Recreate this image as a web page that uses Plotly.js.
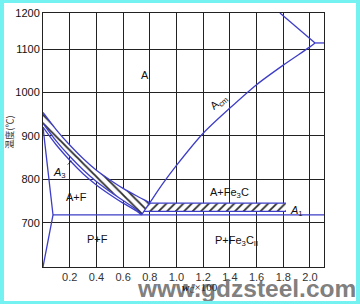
<!DOCTYPE html>
<html>
<head>
<meta charset="utf-8">
<script src="https://cdn.plot.ly/plotly-3.0.1.min.js"></script>
<style>
html,body{margin:0;padding:0;background:#fff;}
#wrap{position:relative;width:360px;height:304px;}
#chart{position:absolute;left:0;top:0;width:360px;height:304px;}
#frame{position:absolute;left:0;top:0;width:360px;height:304px;box-sizing:border-box;
  border-style:solid;border-color:#74f2f2;border-width:3px 4px 3px 4px;pointer-events:none;}
</style>
</head>
<body>
<div id="wrap"><div id="chart"></div><div id="frame"></div></div>
<script>
// ---- data (wt% C x100, temperature in °C) ----
const xTickVals = [0.2, 0.4, 0.6, 0.8, 1.0, 1.2, 1.4, 1.6, 1.8, 2.0];
const xTickText = ["0.2", "0.4", "0.6", "0.8", "1.0", "1.2", "1.4", "1.6", "1.8", "2.0"];
const yTickVals = [700, 800, 900, 1000, 1100, 1183];
const yTickText = ["700", "800", "900", "1000", "1100", "1200"];

// upper edge of hatched heating band
const bandTopX = [0, 0.1, 0.2, 0.3, 0.4, 0.5, 0.6, 0.7, 0.8];
const bandTopT = [954, 914, 879, 848, 821, 799, 779, 762, 746];
// lower edge of hatched heating band
const bandLowX = [0, 0.1, 0.2, 0.3, 0.4, 0.5, 0.6, 0.7, 0.738];
const bandLowT = [929, 888, 853, 822, 795, 772, 751, 730, 718];
// A3 (GS) line
const a3X = [0, 0.1, 0.2, 0.3, 0.4, 0.5, 0.6, 0.7, 0.738];
const a3T = [920, 879, 844, 813, 787, 765, 745, 727, 718];
// GP / PQ lines
const gpX = [0, 0.075, 0];
const gpT = [920, 718, 598];
// A1 line
const a1X = [0.075, 2.105];
const a1T = [718, 718];
// Acm (ES) line
const acmX = [0.738, 0.8, 0.9, 1.0, 1.2, 1.4, 1.6, 1.8, 2.0, 2.038];
const acmT = [718, 746, 791, 832, 906, 964, 1018, 1063, 1105, 1114];
// E point horizontal and JE line
const ecfX = [2.038, 2.105];
const ecfT = [1114, 1114];
const jeX = [1.775, 2.038];
const jeT = [1183, 1114];
// horizontal hatched band above A1
const hbTopX = [0.8, 1.82];
const hbTopT = [745, 745];
const hbLowX = [0.757, 1.82];
const hbLowT = [726, 726];

const blue = "#3d3dc8";
const ink = "#222";
function line(x, y, smooth) {
  return {x: x, y: y, type: "scatter", mode: "lines",
          line: {color: blue, width: 1.3, shape: smooth ? "spline" : "linear", smoothing: 0.8},
          hoverinfo: "skip", showlegend: false};
}
function band(topX, topT, lowX, lowT, shape) {
  const x = topX.concat(lowX.slice().reverse());
  const y = topT.concat(lowT.slice().reverse());
  return {x: x, y: y, type: "scatter", mode: "lines", fill: "toself", line: {width: 0, color: "rgba(0,0,0,0)"},
          fillcolor: "rgba(255,255,255,0)",
          fillpattern: {shape: shape, size: 6, solidity: 0.3, fgcolor: "#2a2a2a", bgcolor: "#fff"},
          hoverinfo: "skip", showlegend: false};
}

const traces = [
  band(bandTopX, bandTopT, bandLowX, bandLowT, "\\"),
  band(hbTopX, hbTopT, hbLowX, hbLowT, "/"),
  line(bandTopX, bandTopT, true), line(bandLowX, bandLowT, true), line(a3X, a3T, true),
  line(gpX, gpT), line(a1X, a1T), line(acmX, acmT, true), line(ecfX, ecfT), line(jeX, jeT),
  line(hbTopX, hbTopT), line(hbLowX, hbLowT)
];

const lf = {family: "Liberation Sans, Arial, sans-serif", size: 11, color: "#111"};
const layout = {
  width: 360, height: 304,
  margin: {l: 43, r: 36, t: 13, b: 37, pad: 0},
  paper_bgcolor: "#fff", plot_bgcolor: "#fff",
  showlegend: false,
  xaxis: {range: [0, 2.105], tickvals: xTickVals, ticktext: xTickText, showgrid: true,
          gridcolor: ink, gridwidth: 1, zeroline: false, showline: true, linecolor: ink, linewidth: 1,
          mirror: true, ticks: "", tickfont: {family: lf.family, size: 11, color: "#333"}, fixedrange: true},
  yaxis: {range: [598, 1183], tickvals: yTickVals, ticktext: yTickText, showgrid: true,
          gridcolor: ink, gridwidth: 1, zeroline: false, showline: true, linecolor: ink, linewidth: 1,
          mirror: true, ticks: "", tickfont: {family: lf.family, size: 11, color: "#111"}, fixedrange: true},
  annotations: [
    {x: 0.763, y: 1040, text: "A", showarrow: false, font: lf},
    {x: 0.25, y: 759, text: "A+F", showarrow: false, font: lf},
    {x: 0.41, y: 663, text: "P+F", showarrow: false, font: lf},
    {x: 1.40, y: 768, text: "A+Fe<sub>3</sub>C", showarrow: false, font: lf},
    {x: 1.45, y: 659, text: "P+Fe<sub>3</sub>C<sub>II</sub>", showarrow: false, font: lf},
    {x: 1.9, y: 727, text: "<i>A</i><sub>1</sub>", showarrow: false, font: lf},
    {x: 1.32, y: 978, text: "A<sub>cm</sub>", showarrow: false, textangle: -40, font: lf},
    {x: 0.215, y: 843, text: "<i>A</i><sub>3</sub>", showarrow: true, arrowhead: 0, arrowwidth: 0.8,
     arrowcolor: "#111", ax: -12, ay: 12, standoff: 0, font: lf},
    {xref: "paper", yref: "paper", x: -0.12, y: 0.53, xanchor: "center", yanchor: "middle",
     text: "温度(℃)", textangle: -90, showarrow: false,
     font: {family: "Noto Sans CJK SC", size: 9, color: "#333"}},
    {xref: "paper", yref: "paper", x: 1.121, y: -0.146, xanchor: "right", yanchor: "bottom",
     text: "<b>www.gdzsteel.com</b>", showarrow: false,
     font: {family: "Liberation Sans, Arial, sans-serif", size: 24.5, color: "rgba(110,110,110,0.9)"}},
    {xref: "paper", yref: "paper", x: 0.56, y: -0.048, xanchor: "center", yanchor: "top",
     text: "<b><i>w</i></b><sub>C</sub>×100", showarrow: false,
     font: {family: "Liberation Serif, serif", size: 11, color: "#222"}}
  ]
};
Plotly.newPlot("chart", traces, layout, {staticPlot: true, displayModeBar: false});
</script>
</body>
</html>
